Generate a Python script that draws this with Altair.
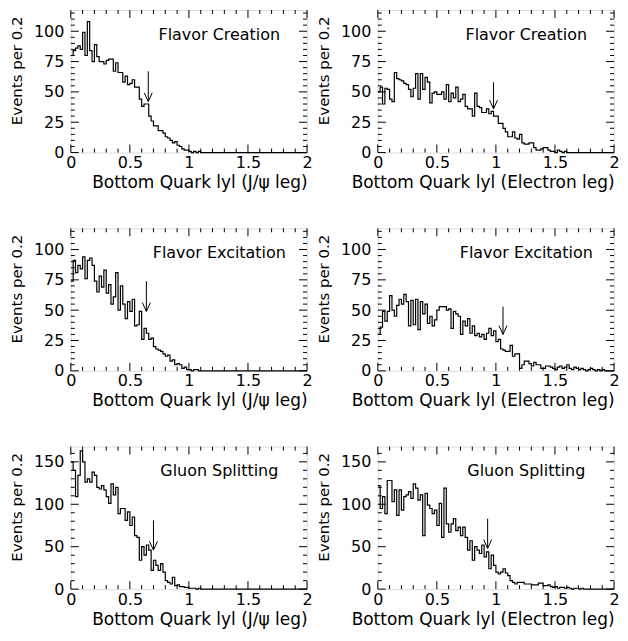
import altair as alt
import pandas as pd

# ---------------- data (events per bin of width 0.02 in |y|) ----------------
BIN_WIDTH = 0.02
N_BINS = 100

fc_jpsi = [80, 84, 86, 88, 85, 99, 80, 108, 84, 75, 89, 79, 75, 75, 73, 76, 77, 77, 67, 74,
           66, 66, 58, 63, 56, 57, 60, 54, 54, 44, 38, 40, 40, 30, 26, 22, 22, 18, 18, 16,
           13, 12, 10, 8, 9, 6, 5, 3, 2, 2, 1, 0, 1, 0, 1]
fc_ele = [50, 54, 40, 53, 52, 44, 42, 66, 61, 60, 59, 57, 56, 52, 46, 53, 65, 44, 65, 52,
          62, 58, 41, 49, 50, 48, 48, 50, 44, 56, 42, 49, 45, 54, 42, 44, 48, 38, 36, 36,
          30, 49, 38, 37, 33, 33, 36, 32, 34, 30, 30, 24, 24, 20, 17, 13, 13, 17, 12, 11,
          15, 8, 7, 7, 8, 8, 4, 2, 2, 3, 4, 4, 2, 1, 1, 0, 2, 1, 0, 1]
fe_jpsi = [74, 91, 81, 87, 84, 94, 76, 91, 93, 87, 74, 65, 78, 69, 83, 64, 71, 55, 61, 81,
           50, 70, 55, 43, 57, 49, 59, 37, 38, 49, 26, 35, 31, 26, 27, 20, 18, 17, 16, 14,
           12, 13, 8, 9, 5, 6, 5, 2, 3, 1, 1, 0, 1, 1]
fe_ele = [30, 36, 49, 41, 49, 62, 50, 45, 54, 59, 55, 63, 57, 37, 58, 38, 59, 34, 57, 47,
          55, 39, 45, 37, 42, 50, 53, 53, 53, 50, 51, 35, 49, 47, 45, 30, 41, 37, 43, 31,
          37, 29, 31, 28, 30, 26, 31, 35, 29, 33, 24, 26, 18, 17, 16, 16, 21, 12, 14, 14,
          2, 5, 8, 8, 6, 4, 7, 5, 5, 2, 2, 4, 4, 3, 2, 1, 3, 4, 2, 3,
          5, 2, 1, 3, 2, 1, 2, 1, 0, 1, 2, 1, 0, 1, 0, 1]
gs_jpsi = [150, 140, 109, 134, 163, 150, 126, 130, 126, 138, 134, 120, 118, 122, 117, 109, 101, 124, 111, 120,
           89, 95, 95, 81, 91, 75, 85, 63, 61, 34, 50, 40, 52, 46, 22, 34, 28, 22, 30, 20,
           10, 8, 6, 14, 4, 5, 3, 3, 2, 2, 1, 1, 1, 0, 1]
gs_ele = [122, 95, 109, 89, 128, 128, 103, 117, 87, 117, 93, 109, 111, 115, 107, 124, 119, 105, 111, 63,
          113, 99, 95, 89, 93, 75, 101, 61, 119, 77, 67, 77, 83, 69, 73, 63, 73, 61, 46, 57,
          34, 50, 46, 42, 52, 38, 44, 24, 40, 28, 20, 18, 20, 24, 19, 16, 10, 8, 6, 8,
          8, 8, 6, 6, 6, 5, 5, 5, 7, 7, 4, 4, 5, 3, 2, 3, 1, 2, 2, 1,
          2, 1, 0, 1, 1, 0, 1]

labels = ["Flavor Creation", "Flavor Creation", "Flavor Excitation", "Flavor Excitation",
          "Gluon Splitting", "Gluon Splitting"]
x_titles = ["Bottom Quark lyl (J/\u03c8 leg)", "Bottom Quark lyl (Electron leg)"]
y_title = "Events per 0.2"
x_tick_labels = [0, 0.5, 1, 1.5, 2]

# arrow (cut) positions: x, arrow top value, arrow tip value
arrow_x = [0.656, 0.98, 0.64, 1.06, 0.70, 0.93]
arrow_top = [67, 58, 74, 53, 81, 83]
arrow_tip = [42, 36, 49, 30, 46, 48]

y_max = [117.5, 117.5, 117.5, 117.5, 168, 168]
y_major = [[0, 25, 50, 75, 100]] * 4 + [[0, 50, 100, 150]] * 2
y_minor_step = [5, 5, 5, 5, 10, 10]

# ---------------- styling ----------------
W, H = 237, 143
FONT = "DejaVu Sans"
MAJ, MIN = 8, 4


def panel(i, vals, xtitle):
    v = vals + [0] * (N_BINS - len(vals))
    df = pd.DataFrame({"x": [k * BIN_WIDTH for k in range(N_BINS + 1)],
                       "n": v + [v[-1]]})
    xs = alt.Scale(domain=[0, 2], nice=False, zero=False)
    ys = alt.Scale(domain=[0, y_max[i]], nice=False, zero=True)
    xax = alt.Axis(values=x_tick_labels, labelExpr="datum.value + ''",
                   title=xtitle, titleAnchor="end", ticks=False,
                   domain=False, grid=False, labelFontSize=16,
                   labelPadding=2, titleFontSize=17, titlePadding=4,
                   labelFont=FONT, titleFont=FONT, titleFontWeight="normal",
                   labelColor="black", titleColor="black",
                   labelFlush=False, labelOverlap=False)
    yax = alt.Axis(values=y_major[i], title=y_title, titleAnchor="start",
                   titleAlign="right", titleY=6, titleAngle=270,
                   ticks=False, domain=False, grid=False, labelFontSize=16,
                   labelPadding=7, titleFontSize=15, titlePadding=9,
                   labelFont=FONT, titleFont=FONT, titleFontWeight="normal",
                   labelColor="black", titleColor="black",
                   labelFlush=False, labelOverlap=False)

    def X(f):
        return alt.X(f, scale=xs, axis=xax)

    def Y(f):
        return alt.Y(f, scale=ys, axis=yax)

    line = alt.Chart(df).mark_line(interpolate="step-after", color="black",
                                   strokeWidth=1.2).encode(x=X("x:Q"), y=Y("n:Q"))
    layers = [line]

    x_major = [k * 0.5 for k in range(5)]
    x_minor = [round(k * 0.1, 2) for k in range(21) if k % 5 != 0]
    step = y_minor_step[i]
    top = int(y_max[i])
    y_maj = y_major[i]
    y_min = [k for k in range(0, top + 1, step) if k not in y_maj]

    for vals_, ln in ((x_major, MAJ), (x_minor, MIN)):
        tdf = pd.DataFrame({"x": vals_})
        layers.append(alt.Chart(tdf).mark_rule(color="black", strokeWidth=1).encode(
            x=X("x:Q"), y=alt.value(H), y2=alt.value(H - ln)))
        layers.append(alt.Chart(tdf).mark_rule(color="black", strokeWidth=1).encode(
            x=X("x:Q"), y=alt.value(0), y2=alt.value(ln)))
    for vals_, ln in ((y_maj, MAJ), (y_min, MIN)):
        tdf = pd.DataFrame({"n": vals_})
        layers.append(alt.Chart(tdf).mark_rule(color="black", strokeWidth=1).encode(
            y=Y("n:Q"), x=alt.value(0), x2=alt.value(ln)))
        layers.append(alt.Chart(tdf).mark_rule(color="black", strokeWidth=1).encode(
            y=Y("n:Q"), x=alt.value(W), x2=alt.value(W - ln)))

    adf = pd.DataFrame({"x": [arrow_x[i]], "n": [arrow_top[i]], "tip": [arrow_tip[i]]})
    shaft = alt.Chart(adf).mark_rule(color="black", strokeWidth=1).encode(
        x=X("x:Q"), y=Y("n:Q"), y2="tip:Q")
    hdf = pd.DataFrame({"x": [arrow_x[i]], "n": [arrow_tip[i]]})
    head = alt.Chart(hdf).mark_point(shape="M-1,-2.2L0,0L1,-2.2", filled=False,
                                     color="black", strokeWidth=1, size=64,
                                     opacity=1).encode(x=X("x:Q"), y=Y("n:Q"))
    layers += [shaft, head]

    ldf = pd.DataFrame({"label": [labels[i]]})
    text = alt.Chart(ldf).mark_text(font=FONT, fontSize=16, color="black",
                                    align="center", baseline="middle").encode(
        text="label:N", x=alt.value(149), y=alt.value(25))
    layers.append(text)

    return alt.layer(*layers).properties(width=W, height=H)


all_vals = [fc_jpsi, fc_ele, fe_jpsi, fe_ele, gs_jpsi, gs_ele]
panels = [panel(i, all_vals[i], x_titles[i % 2]) for i in range(6)]

chart = alt.concat(*panels, columns=2, spacing={"row": 76, "column": 71},
                   bounds="flush").properties(
    padding={"top": 0, "left": 0, "right": 0, "bottom": 0}
).configure_view(
    stroke="black", strokeWidth=1
).configure(background="white")

chart.save("out.html", embed_options={"renderer": "svg", "actions": False})
